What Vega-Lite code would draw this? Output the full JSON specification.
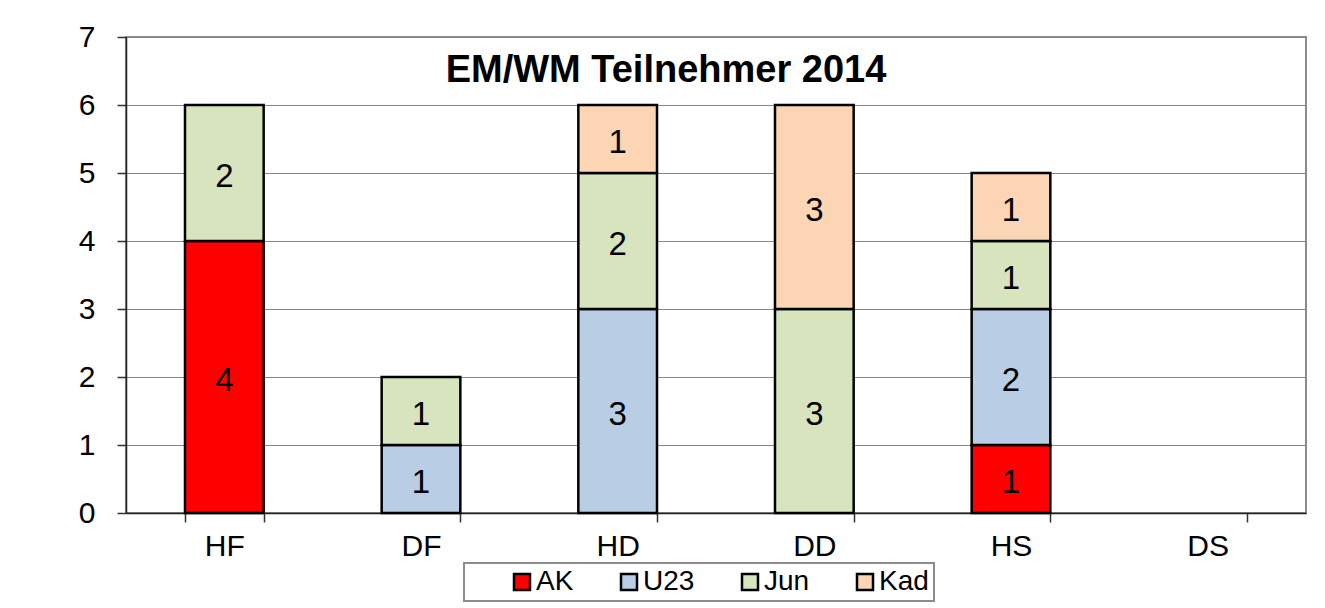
{
  "$schema": "https://vega.github.io/schema/vega-lite/v6.json",
  "width": 1180,
  "height": 476,
  "autosize": {"type": "none"},
  "padding": {"left": 126, "top": 37, "right": 19, "bottom": 95},
  "background": "white",
  "config": {
    "font": "Liberation Sans",
    "view": {"stroke": "#8c8c8c", "strokeWidth": 2},
    "legend": {"strokeColor": "#8c8c8c", "strokeWidth": 2}
  },
  "title": {
    "text": "EM/WM Teilnehmer 2014",
    "font": "Liberation Sans",
    "fontSize": 38,
    "fontWeight": "bold",
    "color": "black",
    "anchor": "middle",
    "frame": "group",
    "baseline": "alphabetic",
    "offset": -98,
    "dx": -50
  },
  "data": {
    "values": [
      {"cat": "HF", "grp": "AK", "ord": 1, "n": 4},
      {"cat": "HF", "grp": "Jun", "ord": 3, "n": 2},
      {"cat": "DF", "grp": "U23", "ord": 2, "n": 1},
      {"cat": "DF", "grp": "Jun", "ord": 3, "n": 1},
      {"cat": "HD", "grp": "U23", "ord": 2, "n": 3},
      {"cat": "HD", "grp": "Jun", "ord": 3, "n": 2},
      {"cat": "HD", "grp": "Kad", "ord": 4, "n": 1},
      {"cat": "DD", "grp": "Jun", "ord": 3, "n": 3},
      {"cat": "DD", "grp": "Kad", "ord": 4, "n": 3},
      {"cat": "HS", "grp": "AK", "ord": 1, "n": 1},
      {"cat": "HS", "grp": "U23", "ord": 2, "n": 2},
      {"cat": "HS", "grp": "Jun", "ord": 3, "n": 1},
      {"cat": "HS", "grp": "Kad", "ord": 4, "n": 1}
    ]
  },
  "transform": [
    {"stack": "n", "groupby": ["cat"], "sort": [{"field": "ord"}], "as": ["y0", "y1"]},
    {"calculate": "(datum.y0 + datum.y1) / 2", "as": "mid"}
  ],
  "encoding": {
    "x": {
      "field": "cat",
      "type": "nominal",
      "sort": null,
      "title": null,
      "scale": {"domain": ["HF", "DF", "HD", "DD", "HS", "DS"], "paddingInner": 0.6, "paddingOuter": 0.3},
      "axis": {
        "labelAngle": 0,
        "labelFontSize": 30,
        "labelColor": "black",
        "labelPadding": 9,
        "tickBand": "extent",
        "tickSize": 9,
        "tickColor": "#333",
        "tickWidth": 1.5,
        "domainColor": "#222",
        "domainWidth": 1.5,
        "grid": false
      }
    }
  },
  "layer": [
    {
      "mark": {"type": "bar", "stroke": "black", "strokeWidth": 2.5},
      "encoding": {
        "y": {
          "field": "y0",
          "type": "quantitative",
          "title": null,
          "scale": {"domain": [0, 7], "nice": false},
          "axis": {
            "values": [0, 1, 2, 3, 4, 5, 6, 7],
            "format": "d",
            "labelFontSize": 30,
            "labelColor": "black",
            "labelPadding": 22,
            "tickSize": 9,
            "tickColor": "#333",
            "tickWidth": 1.5,
            "domainColor": "#222",
            "domainWidth": 1.5,
            "grid": true,
            "gridColor": "#868686",
            "gridWidth": 1
          }
        },
        "y2": {"field": "y1"},
        "color": {
          "field": "grp",
          "type": "nominal",
          "scale": {"domain": ["AK", "U23", "Jun", "Kad"], "range": ["#ff0000", "#b9cde5", "#d7e4bd", "#fcd5b5"]},
          "legend": {
            "title": null,
            "orient": "none",
            "legendX": 338,
            "legendY": 526,
            "direction": "horizontal",
            "padding": 5,
            "symbolOffset": 39,
            "columnPadding": 2,
            "labelOffset": 0,
            "symbolType": "square",
            "symbolSize": 256,
            "symbolStrokeColor": "black",
            "symbolStrokeWidth": 2.5,
            "labelFontSize": 28,
            "labelColor": "black"
          }
        }
      }
    },
    {
      "mark": {"type": "text", "fontSize": 33, "color": "black", "baseline": "middle", "dy": 4},
      "encoding": {
        "y": {"field": "mid", "type": "quantitative"},
        "text": {"field": "n", "type": "quantitative"}
      }
    }
  ]
}
